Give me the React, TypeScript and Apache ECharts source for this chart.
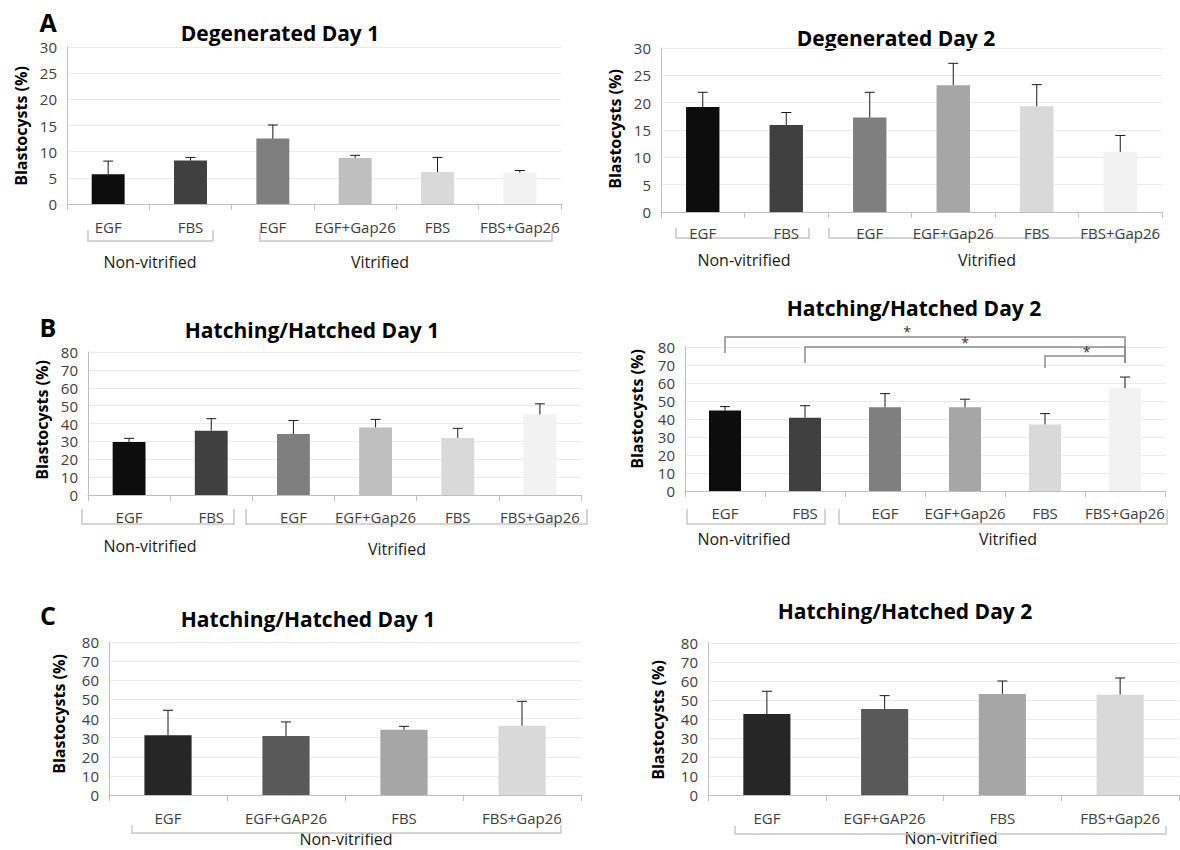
import React, { useEffect, useRef } from "react";
import * as echarts from "echarts";

// ---------- data ----------
const catsVit = ["EGF", "FBS", "EGF", "EGF+Gap26", "FBS", "FBS+Gap26"];
const catsNonVit = ["EGF", "EGF+GAP26", "FBS", "FBS+Gap26"];

const yTicks30 = [0, 5, 10, 15, 20, 25, 30];
const yTicks80 = [0, 10, 20, 30, 40, 50, 60, 70, 80];

const degDay1Mean = [5.7, 8.3, 12.5, 8.8, 6.1, 6.0];
const degDay1Upper = [8.2, 8.9, 15.1, 9.3, 8.9, 6.4];
const degDay2Mean = [19.2, 15.9, 17.3, 23.2, 19.35, 11.0];
const degDay2Upper = [21.9, 18.2, 21.9, 27.2, 23.3, 14.0];
const hatchVitDay1Mean = [29.7, 36.0, 34.1, 37.8, 31.9, 45.1];
const hatchVitDay1Upper = [31.7, 42.7, 41.7, 42.3, 37.3, 51.0];
const hatchVitDay2Mean = [44.7, 40.7, 46.5, 46.5, 37.0, 57.1];
const hatchVitDay2Upper = [46.9, 47.4, 54.1, 51.0, 43.0, 63.3];
const hatchNonDay1Mean = [31.2, 30.8, 34.1, 36.2];
const hatchNonDay1Upper = [44.3, 38.2, 35.9, 49.0];
const hatchNonDay2Mean = [42.6, 45.3, 53.2, 52.8];
const hatchNonDay2Upper = [54.6, 52.3, 60.0, 61.6];

// significance: [fromIndex, toIndex]
const sigPairs = [
  [0, 5],
  [1, 5],
  [4, 5],
];

const colorsA = ["#0d0d0d", "#404040", "#7f7f7f", "#bfbfbf", "#d9d9d9", "#f2f2f2"];
const colorsA2 = ["#0d0d0d", "#404040", "#7f7f7f", "#a6a6a6", "#d9d9d9", "#f2f2f2"];
const colorsC = ["#262626", "#595959", "#a6a6a6", "#d9d9d9"];

const FONT = '"Open Sans", "DejaVu Sans", sans-serif';

type Panel = {
  title: string;
  cats: string[];
  mean: number[];
  upper: number[];
  colors: string[];
  ticks: number[];
  grid: { left: number; top: number; width: number; height: number };
  labelMargin: number;
};

const panels: Panel[] = [
  { title: "Degenerated Day 1", cats: catsVit, mean: degDay1Mean, upper: degDay1Upper, colors: colorsA, ticks: yTicks30, grid: { left: 67, top: 47, width: 494, height: 157 }, labelMargin: 15 },
  { title: "Degenerated Day 2", cats: catsVit, mean: degDay2Mean, upper: degDay2Upper, colors: colorsA2, ticks: yTicks30, grid: { left: 661, top: 48, width: 501, height: 164 }, labelMargin: 13 },
  { title: "Hatching/Hatched Day 1", cats: catsVit, mean: hatchVitDay1Mean, upper: hatchVitDay1Upper, colors: colorsA, ticks: yTicks80, grid: { left: 88, top: 352, width: 493, height: 143 }, labelMargin: 14 },
  { title: "Hatching/Hatched Day 2", cats: catsVit, mean: hatchVitDay2Mean, upper: hatchVitDay2Upper, colors: colorsA2, ticks: yTicks80, grid: { left: 685, top: 347, width: 480, height: 144 }, labelMargin: 14 },
  { title: "Hatching/Hatched Day 1", cats: catsNonVit, mean: hatchNonDay1Mean, upper: hatchNonDay1Upper, colors: colorsC, ticks: yTicks80, grid: { left: 109, top: 642, width: 472, height: 153 }, labelMargin: 15 },
  { title: "Hatching/Hatched Day 2", cats: catsNonVit, mean: hatchNonDay2Mean, upper: hatchNonDay2Upper, colors: colorsC, ticks: yTicks80, grid: { left: 708, top: 643, width: 471, height: 152 }, labelMargin: 15 },
];

// annotation layout (pixels)
const titlePos = [[280, 33], [896, 38], [312, 330], [914, 308], [308, 619], [905, 611]];
const yNamePos = [[21, 126], [615, 129], [42, 420], [637, 409], [59, 714], [658, 720]];
const letters = [["A", 48, 22], ["B", 48, 327], ["C", 48, 615]];
const groupLabels: [string, number, number][] = [
  ["Non-vitrified", 150, 262], ["Vitrified", 380, 262],
  ["Non-vitrified", 744, 260], ["Vitrified", 987, 260],
  ["Non-vitrified", 150, 546], ["Vitrified", 397, 549],
  ["Non-vitrified", 744, 539], ["Vitrified", 1008, 539],
  ["Non-vitrified", 346, 839],
  ["Non-vitrified", 951, 838],
];
const groupBrackets = [
  [88, 213, 230, 241], [260, 552, 230, 241],
  [676, 809, 228, 238], [829, 1154, 228, 238],
  [82, 234, 509, 524], [246, 587, 509, 524],
  [687, 825, 509, 524], [839, 1167, 509, 524],
  [132, 561, 825, 833],
  [735, 1166, 826, 834],
];
// bracket heights in value units: [top, leftLegEnd, rightLegEnd], star position fraction
const sigHeights = [
  [85.6, 76.7, 71.1, 0.455],
  [80.0, 71.1, 71.1, 0.5],
  [75.0, 68.3, 71.1, 0.52],
];

function text(t: string, x: number, y: number, size: number, weight: string, rotation = 0, color = "#000") {
  return {
    type: "text",
    x,
    y,
    rotation,
    silent: true,
    style: {
      text: t,
      fill: color,
      fontSize: size,
      fontWeight: weight,
      fontFamily: FONT,
      align: "center",
      verticalAlign: "middle",
      textAlign: "center",
      textVerticalAlign: "middle",
    },
  };
}

export default function App() {
  const ref = useRef<HTMLDivElement>(null);
  useEffect(() => {
    if (!ref.current) return;
    const chart = echarts.init(ref.current, null, { renderer: "svg" });

    const grids: any[] = [];
    const xAxes: any[] = [];
    const yAxes: any[] = [];
    const series: any[] = [];

    panels.forEach((p, i) => {
      grids.push({ ...p.grid, containLabel: false });
      xAxes.push({
        type: "category",
        gridIndex: i,
        data: p.cats,
        axisLine: { show: true, lineStyle: { color: "#bfbfbf", width: 1 } },
        axisTick: { show: true, length: 6, lineStyle: { color: "#bfbfbf" } },
        axisLabel: { interval: 0, margin: p.labelMargin, color: "#404040", fontSize: 15, fontFamily: FONT },
        splitLine: { show: false },
      });
      const tmax = p.ticks[p.ticks.length - 1];
      const step = p.ticks[1] - p.ticks[0];
      yAxes.push({
        type: "value",
        gridIndex: i,
        min: p.ticks[0],
        max: tmax,
        interval: step,
        axisLine: { show: true, lineStyle: { color: "#bfbfbf", width: 1 } },
        axisTick: { show: false },
        axisLabel: { margin: 10, color: "#404040", fontSize: 15, fontFamily: FONT },
        splitLine: { show: true, lineStyle: { color: "#ebebeb", width: 1 } },
      });
      series.push({
        type: "bar",
        xAxisIndex: i,
        yAxisIndex: i,
        barWidth: "40%",
        data: p.mean.map((v, j) => ({ value: v, itemStyle: { color: p.colors[j] } })),
        silent: true,
      });
      series.push({
        type: "custom",
        xAxisIndex: i,
        yAxisIndex: i,
        z: 5,
        clip: false,
        silent: true,
        encode: { x: 0, y: [1, 2] },
        data: p.mean.map((v, j) => [j, v, p.upper[j]]),
        renderItem: (params: any, api: any) => {
          const x = api.value(0);
          const lo = api.coord([x, api.value(1)]);
          const hi = api.coord([x, api.value(2)]);
          return {
            type: "group",
            children: [
              { type: "line", shape: { x1: lo[0], y1: lo[1], x2: hi[0], y2: hi[1] }, style: { stroke: "#1a1a1a", lineWidth: 1 } },
              { type: "line", shape: { x1: hi[0] - 5, y1: hi[1], x2: hi[0] + 5, y2: hi[1] }, style: { stroke: "#1a1a1a", lineWidth: 1 } },
            ],
          };
        },
      });
    });

    // significance brackets on panel B (day 2)
    series.push({
      type: "custom",
      xAxisIndex: 3,
      yAxisIndex: 3,
      z: 6,
      clip: false,
      silent: true,
      data: sigPairs.map((pr, k) => [pr[0], pr[1], sigHeights[k][0], sigHeights[k][1], sigHeights[k][2], sigHeights[k][3]]),
      renderItem: (params: any, api: any) => {
        const a = api.value(0);
        const b = api.value(1);
        const top = api.value(2);
        const lTop = api.coord([a, top]);
        const lBot = api.coord([a, api.value(3)]);
        const rTop = api.coord([b, top]);
        const rBot = api.coord([b, api.value(4)]);
        const frac = api.value(5);
        const sx = lTop[0] + (rTop[0] - lTop[0]) * frac;
        return {
          type: "group",
          children: [
            {
              type: "polyline",
              shape: { points: [lBot, lTop, rTop, rBot] },
              style: { stroke: "#8c8c8c", lineWidth: 1.5, fill: null },
            },
            {
              type: "text",
              x: sx,
              y: lTop[1] - 5,
              style: { text: "*", fontSize: 14, fontFamily: FONT, fill: "#333", align: "center", verticalAlign: "middle" },
            },
          ],
        };
      },
    });

    const graphic: any[] = [];
    panels.forEach((p, i) => {
      graphic.push(text(p.title, titlePos[i][0], titlePos[i][1], 21, "bold"));
      graphic.push(text("Blastocysts (%)", yNamePos[i][0], yNamePos[i][1], 16, "bold", Math.PI / 2));
    });
    letters.forEach((l) => graphic.push(text(l[0] as string, l[1] as number, l[2] as number, 25, "bold")));
    groupLabels.forEach((g) => graphic.push(text(g[0], g[1], g[2], 16, "normal", 0, "#1a1a1a")));
    groupBrackets.forEach((b) =>
      graphic.push({
        type: "polyline",
        silent: true,
        shape: { points: [[b[0], b[2]], [b[0], b[3]], [b[1], b[3]], [b[1], b[2]]] },
        style: { stroke: "#c8c8c8", lineWidth: 1.5, fill: null },
      })
    );

    chart.setOption({
      animation: false,
      backgroundColor: "#ffffff",
      grid: grids,
      xAxis: xAxes,
      yAxis: yAxes,
      series,
      graphic,
    });
    return () => chart.dispose();
  }, []);

  return <div ref={ref} style={{ position: "absolute", left: 0, top: 0, width: 1180, height: 850 }} />;
}
